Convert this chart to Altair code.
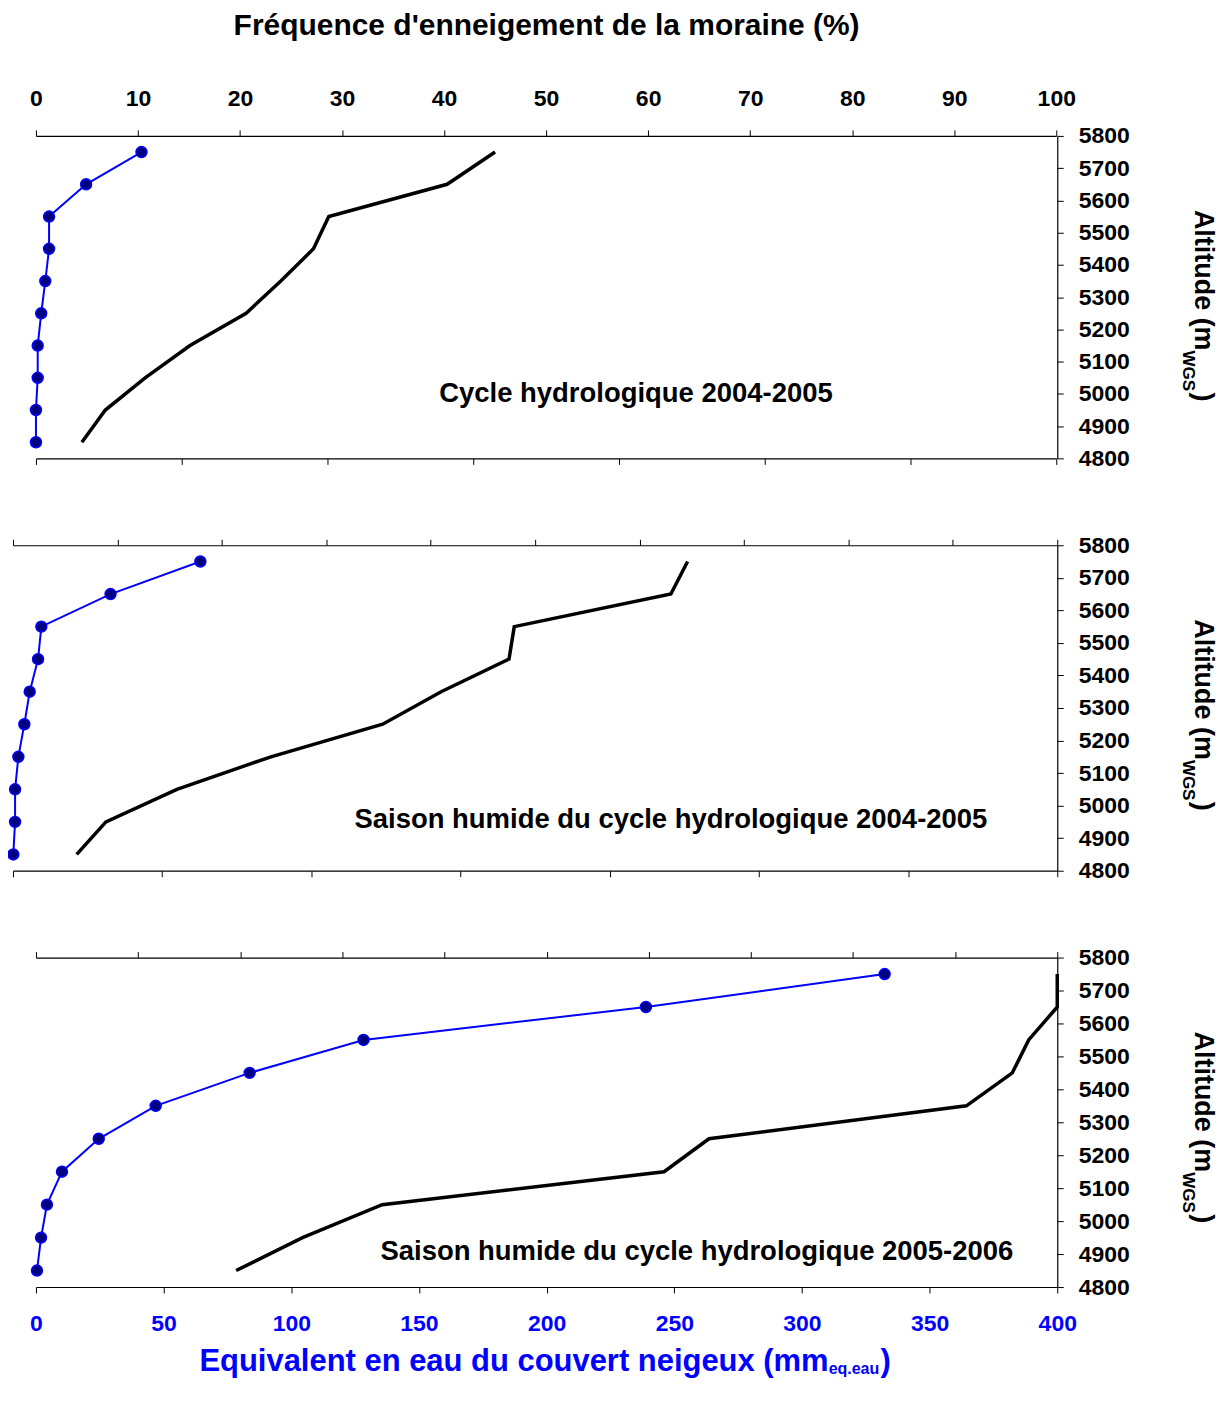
import altair as alt
import pandas as pd

# ---------------- data ----------------
altitudes = [4850, 4950, 5050, 5150, 5250, 5350, 5450, 5550, 5650, 5750]

# Panel 1 : Cycle hydrologique 2004-2005
freq_p1 = [4.5, 6.8, 10.7, 15.1, 20.6, 24.0, 27.2, 28.7, 40.3, 45.0]
swe_p1 = [0.0, 0.0, 0.6, 0.6, 1.8, 3.2, 4.5, 4.5, 17.2, 36.2]

# Panel 2 : Saison humide 2004-2005
freq_p2 = [6.1, 8.9, 15.7, 24.7, 35.4, 41.0, 47.5, 48.0, 63.0, 64.6]
swe_p2 = [0.1, 0.7, 0.7, 1.8, 3.8, 5.6, 8.4, 9.5, 32.7, 62.8]

# Panel 3 : Saison humide 2005-2006
freq_p3 = [19.6, 26.1, 33.9, 61.5, 65.9, 91.1, 95.6, 97.2, 100.0, 100.0]
swe_p3 = [0.4, 2.0, 4.3, 10.2, 24.6, 46.9, 83.7, 128.3, 238.9, 332.4]

panel_labels = [
    "Cycle hydrologique 2004-2005",
    "Saison humide du cycle hydrologique 2004-2005",
    "Saison humide du cycle hydrologique 2005-2006",
]

pct_ticks = list(range(0, 101, 10))
swe_ticks_350 = list(range(0, 351, 50))
swe_ticks_400 = list(range(0, 401, 50))
alt_ticks = list(range(4800, 5801, 100))

top_title = "Fréquence d'enneigement de la moraine (%)"
bottom_title_main = "Equivalent en eau du couvert neigeux (mm"
bottom_title_sub = "eq.eau"
y_title_main = "Altitude (m"
y_title_sub = "WGS"
close_paren = ")"

# ---------------- style ----------------
FONT = "Liberation Sans"
BLUE = "#0000FF"
NAVY = "#00007F"
PLOT_W = 1046  # common plot width; panels 1 and 3 use a narrower x range


def x_axis(orient, values, labels=False, title=None, color="black"):
    kw = dict(
        orient=orient, values=values, labels=labels, tickSize=6, tickColor="black",
        tickWidth=1, domainColor="black", domainWidth=1.2, grid=False,
    )
    if labels:
        kw.update(
            labelFont=FONT, labelFontSize=23, labelFontWeight="bold", labelColor=color,
            labelFlush=False, format="d", labelPadding=19 if orient == "top" else 19.5,
        )
    if title:
        kw.update(
            title=title, titleFont=FONT, titleFontSize=30, titleFontWeight="bold",
            titleColor=color, titlePadding=48,
        )
    else:
        kw.update(title=None)
    return alt.Axis(**kw)


y_axis = alt.Axis(
    orient="right", values=alt_ticks, title=None, format="d", tickSize=6,
    tickColor="black", domainColor="black", domainWidth=1.2, grid=False,
    labelFont=FONT, labelFontSize=23, labelFontWeight="bold", labelColor="black",
    labelAlign="left", labelPadding=15,
)


def text_layer(txt, x, y, size, color="black", align="center", angle=0):
    d = pd.DataFrame({"t": [txt]})
    kw = dict(font=FONT, fontSize=size, fontWeight="bold", color=color, align=align,
              baseline="alphabetic")
    if angle:
        kw["angle"] = angle
    return alt.Chart(d).mark_text(**kw).encode(
        text="t:N", x=alt.value(x), y=alt.value(y)
    )


def panel(freq, swe, swe_max, x_range, height, label, label_xy,
          top_axis, bottom_axis, extra=()):
    df = pd.DataFrame({"altitude": altitudes, "freq": freq, "swe": swe})
    base = alt.Chart(df)
    yenc = alt.Y("altitude:Q", scale=alt.Scale(domain=[4800, 5800], nice=False, zero=False),
                 axis=y_axis)
    black = base.mark_line(color="black", strokeWidth=3.5).encode(
        x=alt.X("freq:Q",
                scale=alt.Scale(domain=[0, 100], range=x_range, nice=False, zero=False),
                axis=top_axis),
        y=yenc,
        order="altitude:Q",
    )
    xs = alt.X("swe:Q",
               scale=alt.Scale(domain=[0, swe_max], range=x_range, nice=False, zero=False),
               axis=bottom_axis)
    blue_line = base.mark_line(color=BLUE, strokeWidth=2).encode(x=xs, y=yenc, order="altitude:Q")
    blue_pts = base.mark_point(shape="circle", filled=True, fill=NAVY, stroke=BLUE,
                               strokeWidth=1.5, size=120, opacity=1).encode(x=xs, y=yenc)
    blue = alt.layer(blue_line, blue_pts)

    # right-hand altitude title with subscript
    bx = 1184
    jy = 215
    ytitle = [
        text_layer(y_title_main, bx, jy, 27, align="right", angle=90),
        text_layer(y_title_sub, bx - 12, jy, 17, align="left", angle=90),
        text_layer(close_paren, bx, jy + 42, 27, align="left", angle=90),
    ]
    lab = text_layer(label, label_xy[0], label_xy[1], 27.5)
    layers = [black, blue, lab] + ytitle + list(extra)
    return alt.layer(*layers).resolve_scale(x="independent").properties(
        width=PLOT_W, height=height
    )


p1 = panel(freq_p1, swe_p1, 350, [23, 1045], 323, panel_labels[0], (624, 267),
           x_axis("top", pct_ticks, labels=True, title=top_title),
           x_axis("bottom", swe_ticks_350))

p2 = panel(freq_p2, swe_p2, 350, [0, 1046], 326, panel_labels[1], (659, 283),
           x_axis("top", pct_ticks),
           x_axis("bottom", swe_ticks_350))

bottom_title = [
    text_layer(bottom_title_main, 817, 414, 31, color=BLUE, align="right"),
    text_layer(bottom_title_sub, 817, 417, 16, color=BLUE, align="left"),
    text_layer(close_paren, 869, 414, 31, color=BLUE, align="left"),
]
p3 = panel(freq_p3, swe_p3, 400, [23, 1046], 330, panel_labels[2], (685, 303),
           x_axis("top", pct_ticks),
           x_axis("bottom", swe_ticks_400, labels=True, color=BLUE),
           extra=bottom_title)

chart = alt.vconcat(p1, p2, p3, spacing=87, bounds="flush").properties(
    padding={"left": -4, "top": 1, "right": 0, "bottom": 0},
    background="white",
).configure_view(stroke="transparent", strokeWidth=0)

chart.save("out.html", embed_options={"renderer": "svg", "actions": False})
